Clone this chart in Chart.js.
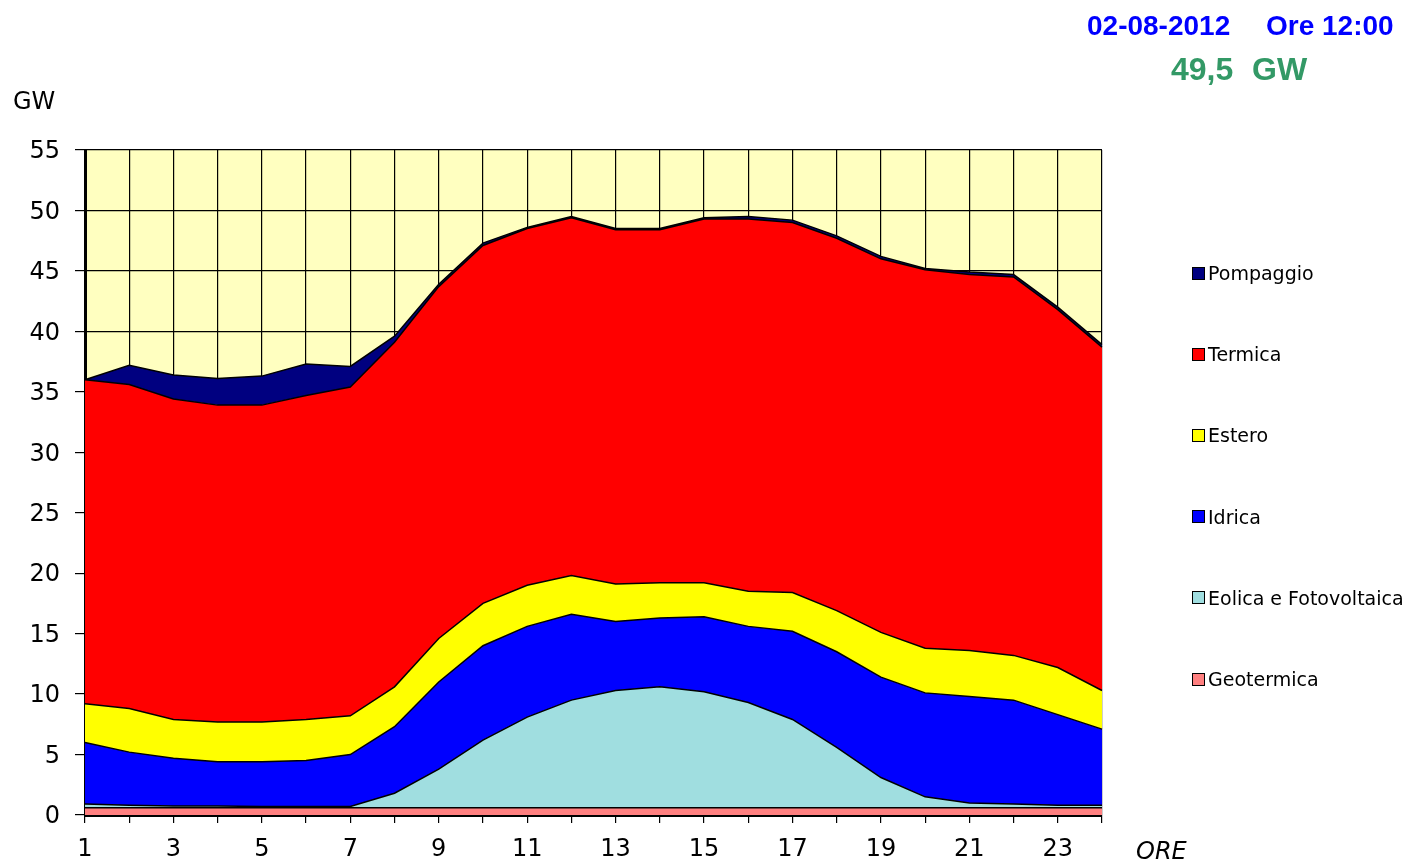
<!DOCTYPE html>
<html>
<head>
<meta charset="utf-8">
<script src="https://cdn.jsdelivr.net/npm/chart.js@4"></script>
<style>
    html, body { margin: 0; padding: 0; background: #fff; }
    #wrap { position: relative; width: 1407px; height: 863px; overflow: hidden; }
    #chart { position: absolute; left: 0; top: 0; }
    .txt { position: absolute; white-space: nowrap; line-height: 1; }
    .head { font-family: 'Liberation Sans', Arial, sans-serif; font-weight: bold; font-size: 28px; }
    .big { font-size: 32px; }
    .legend-row { position: absolute; left: 1192px; height: 20px; display: flex; align-items: center;
        font-family: 'DejaVu Sans', sans-serif; font-size: 19px; color: #000; white-space: nowrap; }
    .legend-box { width: 11px; height: 11px; border: 1.5px solid #000; margin-right: 3px; }
</style>
</head>
<body>
<div id="wrap">
    <canvas id="chart" width="1407" height="863"></canvas>
    <div class="txt head" style="left:1087px; top:12px; color:#0000ff;">02-08-2012</div>
    <div class="txt head" style="left:1266px; top:12px; color:#0000ff;">Ore 12:00</div>
    <div class="txt head big" style="left:1171px; top:53px; color:#339966;">49,5</div>
    <div class="txt head big" style="left:1252px; top:53px; color:#339966;">GW</div>
    <div class="txt" style="left:13px; top:89px; font-family:'DejaVu Sans',sans-serif; font-size:24px;">GW</div>
    <div class="txt" style="left:1136px; top:839px; font-family:'DejaVu Sans',sans-serif; font-size:24px; font-style:italic;">ORE</div>
    <div id="legend"></div>
</div>
<script>
// ore del giorno
const hours = [1, 2, 3, 4, 5, 6, 7, 8, 9, 10, 11, 12, 13, 14, 15, 16, 17, 18, 19, 20, 21, 22, 23, 24];

// produzione per fonte, GW
const geotermica = [0.6, 0.6, 0.6, 0.6, 0.6, 0.6, 0.6, 0.6, 0.6, 0.6, 0.6, 0.6, 0.6, 0.6, 0.6, 0.6, 0.6, 0.6, 0.6, 0.6, 0.6, 0.6, 0.6, 0.6];
const eolicaFoto = [0.3, 0.2, 0.15, 0.15, 0.1, 0.1, 0.1, 1.2, 3.2, 5.6, 7.5, 8.9, 9.7, 10.0, 9.6, 8.7, 7.3, 5.0, 2.5, 0.9, 0.4, 0.3, 0.2, 0.2];
const idrica = [5.1, 4.4, 3.95, 3.65, 3.7, 3.8, 4.3, 5.5, 7.2, 7.8, 7.5, 7.1, 5.7, 5.7, 6.2, 6.3, 7.3, 7.9, 8.3, 8.6, 8.8, 8.6, 7.5, 6.3];
const estero = [3.2, 3.6, 3.2, 3.3, 3.3, 3.4, 3.2, 3.3, 3.6, 3.5, 3.4, 3.2, 3.1, 2.9, 2.8, 2.9, 3.2, 3.4, 3.7, 3.7, 3.8, 3.7, 3.9, 3.2];
const termica = [26.8, 26.8, 26.5, 26.2, 26.2, 26.8, 27.2, 28.5, 29.1, 29.6, 29.5, 29.6, 29.3, 29.2, 30.1, 30.8, 30.6, 30.8, 30.9, 31.3, 31.1, 31.3, 29.6, 28.4];
const pompaggio = [0, 1.6, 2.0, 2.2, 2.4, 2.6, 1.7, 0.5, 0.2, 0.2, 0.1, 0.1, 0.1, 0.1, 0.1, 0.2, 0.2, 0.2, 0.2, 0.1, 0.2, 0.2, 0.2, 0.2];

const series = [
    { label: 'Geotermica', data: geotermica, color: '#ff8080' },
    { label: 'Eolica e Fotovoltaica', data: eolicaFoto, color: '#a0dee0' },
    { label: 'Idrica', data: idrica, color: '#0000ff' },
    { label: 'Estero', data: estero, color: '#ffff00' },
    { label: 'Termica', data: termica, color: '#ff0000' },
    { label: 'Pompaggio', data: pompaggio, color: '#000080' }
];

Chart.defaults.font.family = "'DejaVu Sans', sans-serif";
Chart.defaults.color = '#000';

//sfondo giallo dell'area del grafico
const plotBackground = {
    id: 'plotBackground',
    beforeDraw(chart) {
        const a = chart.chartArea;
        const ctx = chart.ctx;
        ctx.save();
        ctx.fillStyle = '#ffffc0';
        ctx.fillRect(a.left, a.top, a.right - a.left, a.bottom - a.top);
        ctx.restore();
    }
};

new Chart(document.getElementById('chart'), {
    type: 'line',
    data: {
        labels: hours,
        datasets: series.map((s, i) => ({
            label: s.label,
            data: s.data,
            backgroundColor: s.color,
            borderColor: '#000',
            borderWidth: 1.5,
            fill: i === 0 ? 'origin' : '-1',
            pointRadius: 0,
            tension: 0
        }))
    },
    options: {
        responsive: false,
        animation: false,
        layout: { padding: { left: 0, top: 150, right: 305, bottom: 0 } },
        plugins: { legend: { display: false }, tooltip: { enabled: false } },
        scales: {
            x: {
                type: 'category',
                offset: false,
                grid: { color: '#000', lineWidth: 1.2, tickLength: 8 },
                border: { color: '#000', width: 3 },
                ticks: {
                    autoSkip: false,
                    maxRotation: 0,
                    padding: 12,
                    font: { size: 24 },
                    callback: (value, index) => hours[index] % 2 === 1 ? String(hours[index]) : ''
                },
                afterFit(scale) { scale.height = 48; }
            },
            y: {
                stacked: true,
                min: 0,
                max: 55,
                grid: { color: '#000', lineWidth: 1.2, tickLength: 10 },
                border: { color: '#000', width: 3 },
                ticks: { stepSize: 5, padding: 15, labelOffset: 2, font: { size: 24 } },
                afterFit(scale) { scale.width = 85; }
            }
        }
    },
    plugins: [plotBackground]
});

//legenda (ordine inverso, come nell'originale)
const legend = document.getElementById('legend');
series.slice().reverse().forEach((s, i) => {
    const row = document.createElement('div');
    row.className = 'legend-row';
    row.style.top = (263 + i * 81.2) + 'px';
    row.innerHTML = `<span class="legend-box" style="background:${s.color}"></span>${s.label}`;
    legend.appendChild(row);
});
</script>
</body>
</html>
